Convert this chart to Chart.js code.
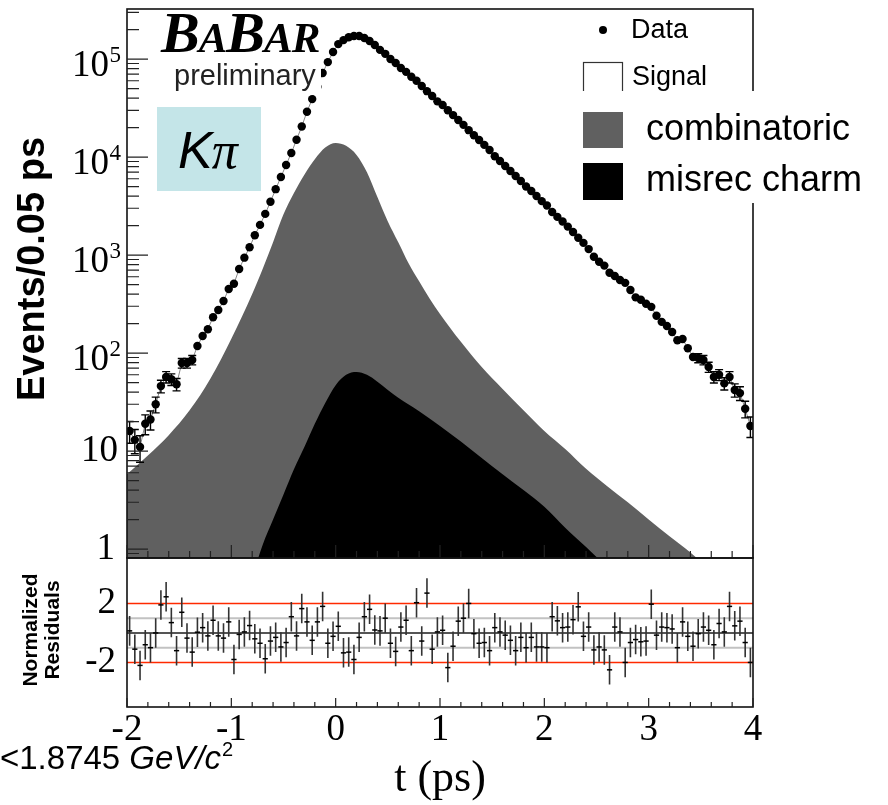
<!DOCTYPE html>
<html>
<head>
<meta charset="utf-8">
<script src="https://cdn.jsdelivr.net/npm/chart.js@4.4.0/dist/chart.umd.min.js"></script>
<style>
  html, body { margin: 0; padding: 0; background: #fff; }
  #wrap { position: relative; width: 888px; height: 805px; overflow: hidden; background: #fff; }
  canvas { position: absolute; left: 0; }
  #mainChart { top: 0; }
  #resChart { top: 552px; }
</style>
</head>
<body>
<div id="wrap">
  <canvas id="mainChart" width="888" height="565"></canvas>
  <canvas id="resChart" width="888" height="253"></canvas>
</div>
<script>
// binning: 120 bins of 0.05 ps from -2 to 4
const tStart = -2, binWidth = 0.05;

// events per bin
const counts = [
  16, 13, 11, 19, 21, 30, 46, 57, 54, 48, 79, 79, 85, 118, 149, 175, 232, 275, 340, 450, 510, 720, 940,
  1200, 1590, 2030, 2630, 3500, 4700, 6250, 8300, 11000, 15000, 20500, 29000, 39000, 52000, 72000, 93000, 118000, 142000, 156000,
  167000, 172000, 172000, 164000, 153000, 139000, 124000, 113000, 100000, 91000, 81000, 74000, 66000, 60000, 53000, 47000, 42000, 37000, 34000, 30000,
  26800, 23900, 21300, 18800, 16700, 14900, 13300, 11800, 10200, 9100, 8100, 7200, 6400, 5700, 5000, 4500, 4000, 3550, 3200, 2750, 2450, 2200, 1950, 1720, 1500, 1330, 1150, 960,
  855, 780, 660, 610, 556, 520, 440, 370, 350, 318, 296, 240, 208, 189, 164, 135, 139, 112, 91, 89, 85, 72, 57, 60, 49, 57, 42, 39, 27, 18
];

// normalized residuals per bin
const residuals = [
  0.14, -1.1, -2.2, -0.8, -1.0, 0.0, 1.9, 2.45, 0.7, -1.2,
  1.4, -0.35, -1.3, 0.05, 0.36, -0.2, 0.86, -0.2, -0.35, 0.75,
  -1.8, -0.1, 0.07, 0.5, -0.4, -0.7, -1.75, -0.55, -0.3, -0.95,
  -0.65, 1.1, -0.2, 1.65, 0.75, -0.5, 0.75, 1.8, -0.7, -0.23,
  0.45, -1.35, -1.3, -1.8, -0.3, 1.1, 1.6, 0.2, 0.14, 1.0,
  -0.7, -1.25, 0.4, 0.86, -1.2, 2.05, -0.55, 2.7, -1.1, 0.07,
  0.18, -2.35, -0.9, 0.8, 1.0, 2.0, -0.05, -0.7, -0.65, -1.2,
  0.36, 0.07, -0.15, -0.5, -1.2, -0.3, -1.0, -0.3, -0.95, -0.95,
  -1.0, 1.1, 0.82, 0.36, 0.4, 0.9, 1.77, -0.23, 0.4, -1.15,
  -0.95, -1.15, -2.5, 0.4, 0.07, -2.0, -0.65, -0.45, -0.6, -0.55,
  1.95, -0.15, 0.4, 0.36, 0.27, -1.0, 0.75, -0.23, -0.9, -0.05,
  0.4, 0.18, -0.8, 0.64, 0.07, 1.8, 0.48, 0.8, -0.65, -2.0
];

// combinatoric background shape
const combT = [-2.0, -1.8, -1.6, -1.4, -1.2, -1.0, -0.8, -0.7, -0.6, -0.5, -0.4, -0.3, -0.2, -0.1, 0.0, 0.1, 0.2, 0.3, 0.4, 0.5,
  0.6, 0.7, 0.8, 0.9, 1.0, 1.2, 1.4, 1.6, 1.8, 2.0, 2.2, 2.4, 2.6, 2.8, 3.0, 3.2, 3.4, 3.6, 3.8];
const combVals = [5.8, 9, 14.5, 26, 55, 140, 400, 720, 1350, 2600, 4300, 6600, 9500, 12500, 13900, 13000, 10500, 7000, 3900, 2200,
  1350, 820, 540, 360, 250, 130, 72, 43, 26, 16, 10.5, 6.6, 4.4, 3.0, 2.0, 1.35, 0.92, 0.6, 0.4];

// misreconstructed charm shape
const misT = [-0.85, -0.8, -0.7, -0.6, -0.5, -0.4, -0.3, -0.2, -0.1, 0.0, 0.1, 0.2, 0.3, 0.4, 0.5, 0.6, 0.8, 1.0, 1.2, 1.4,
  1.6, 1.8, 2.0, 2.2, 2.4, 2.6, 2.7];
const misVals = [0.3, 0.5, 1.1, 2.0, 3.6, 6.5, 11, 19, 31, 47, 60, 64, 60, 51, 42, 35, 25.5, 18, 12.5, 8.5,
  5.8, 4.0, 2.7, 1.65, 1.05, 0.65, 0.5];

const xTicks = [-2, -1, 0, 1, 2, 3, 4];
const yPowers = [0, 1, 2, 3, 4, 5];
const resTickLabels = [2, -2];
const yMin = 0.81, yMax = 3.24e5;

const binCenters = counts.map((_, i) => +(tStart + binWidth * (i + 0.5)).toFixed(3));

const serif = '"Liberation Serif", "Times New Roman", serif';
const sans = '"Liberation Sans", Arial, sans-serif';

function drawXTicks(ctx, x, a, major, minor) {
  ctx.beginPath();
  for (let k = 0; k <= 30; k++) {
    const v = -2 + k * 0.2;
    const px = x.getPixelForValue(v);
    const len = (k % 5 === 0) ? major : minor;
    ctx.moveTo(px, a.bottom);
    ctx.lineTo(px, a.bottom - len);
  }
  ctx.stroke();
}

const mainDecor = {
  id: 'mainDecor',
  afterDatasetsDraw(chart) {
    const { ctx, chartArea: a } = chart;
    const x = chart.scales.x, y = chart.scales.y;
    ctx.save();
    ctx.beginPath();
    ctx.rect(a.left, a.top, a.right - a.left, a.bottom - a.top);
    ctx.clip();
    ctx.strokeStyle = '#000';
    ctx.lineWidth = 1.4;
    counts.forEach((n, i) => {
      const e = Math.sqrt(n);
      const px = x.getPixelForValue(binCenters[i]);
      const yT = y.getPixelForValue(n + e);
      const yB = y.getPixelForValue(Math.max(n - e, 0.3));
      if (yB - yT < 9) return;
      ctx.beginPath();
      ctx.moveTo(px, yT); ctx.lineTo(px, yB);
      ctx.moveTo(px - 4, yT); ctx.lineTo(px + 4, yT);
      ctx.moveTo(px - 4, yB); ctx.lineTo(px + 4, yB);
      ctx.stroke();
    });
    ctx.restore();
  },
  afterDraw(chart) {
    const { ctx, chartArea: a } = chart;
    const x = chart.scales.x, y = chart.scales.y;
    ctx.save();

    // preliminary label sits on a white patch over the curve
    ctx.fillStyle = '#fff';
    ctx.fillRect(172, 61, 149, 34);

    // frame
    ctx.strokeStyle = '#111';
    ctx.lineWidth = 1.6;
    ctx.strokeRect(a.left, a.top, a.right - a.left, a.bottom - a.top);

    // y ticks (inside, left)
    ctx.lineWidth = 1.2;
    ctx.strokeStyle = '#222';
    ctx.beginPath();
    for (let d = -1; d <= 5; d++) {
      for (let m = 1; m <= 9; m++) {
        const v = m * Math.pow(10, d);
        if (v < yMin || v > yMax) continue;
        const py = y.getPixelForValue(v);
        ctx.moveTo(a.left, py);
        ctx.lineTo(a.left + (m === 1 ? 21 : 12), py);
      }
    }
    ctx.stroke();
    drawXTicks(ctx, x, a, 13, 7);

    // y tick labels
    ctx.fillStyle = '#000';
    ctx.textBaseline = 'middle';
    ctx.textAlign = 'right';
    yPowers.forEach(p => {
      const py = y.getPixelForValue(Math.pow(10, p));
      ctx.font = '37px ' + serif;
      if (p === 0) {
        ctx.fillText('1', 115, py);
      } else if (p === 1) {
        ctx.fillText('10', 118, py);
      } else {
        ctx.fillText('10', 109, py + 7);
        ctx.font = '23px ' + serif;
        ctx.fillText(String(p), 121, py - 3);
      }
    });

    // y title
    ctx.save();
    ctx.translate(34, 269);
    ctx.rotate(-Math.PI / 2);
    ctx.textAlign = 'center';
    ctx.font = 'bold 38px ' + sans;
    ctx.fillText('Events/0.05 ps', 0, 0);
    ctx.restore();

    // BaBar logo
    ctx.textAlign = 'left';
    ctx.textBaseline = 'alphabetic';
    let bx = 161;
    [['B', 58], ['A', 43], ['B', 58], ['A', 43], ['R', 43]].forEach(([c, s]) => {
      ctx.font = `italic bold ${s}px ${serif}`;
      ctx.fillText(c, bx, 52);
      bx += ctx.measureText(c).width - 1;
    });
    ctx.fillStyle = '#222';
    ctx.font = '29px ' + sans;
    ctx.fillText('preliminary', 174, 85);

    // K pi box
    ctx.fillStyle = '#c4e5e8';
    ctx.fillRect(157, 107, 104, 84);
    ctx.fillStyle = '#000';
    ctx.font = 'italic 52px ' + sans;
    ctx.fillText('K', 178, 168);
    const kw = ctx.measureText('K').width;
    ctx.font = 'italic 52px ' + serif;
    ctx.fillText('\u03c0', 178 + kw - 1, 168);

    // legend
    ctx.beginPath();
    ctx.arc(603, 30, 4, 0, Math.PI * 2);
    ctx.fill();
    ctx.font = '27px ' + sans;
    ctx.textBaseline = 'middle';
    ctx.fillText('Data', 631, 31);
    ctx.fillText('Signal', 632, 78);
    ctx.strokeStyle = '#333';
    ctx.lineWidth = 1.2;
    ctx.strokeRect(583.5, 62.5, 39, 35);

    ctx.fillStyle = '#fff';
    ctx.fillRect(576, 91, 312, 112);
    ctx.fillStyle = '#606060';
    ctx.fillRect(583, 112, 40, 36);
    ctx.fillStyle = '#000';
    ctx.fillRect(583, 163, 40, 37);
    ctx.font = '36px ' + sans;
    ctx.fillText('combinatoric', 646, 130);
    ctx.fillText('misrec charm', 646, 181);

    ctx.restore();
  }
};

const resDecor = {
  id: 'resDecor',
  beforeDatasetsDraw(chart) {
    const { ctx, chartArea: a } = chart;
    const x = chart.scales.x, y = chart.scales.y;
    ctx.save();
    const hline = (v, color, w) => {
      const py = y.getPixelForValue(v);
      ctx.strokeStyle = color;
      ctx.lineWidth = w;
      ctx.beginPath();
      ctx.moveTo(a.left, py);
      ctx.lineTo(a.right, py);
      ctx.stroke();
    };
    hline(1, '#c2c2c2', 2);
    hline(-1, '#c2c2c2', 2);
    hline(0, '#555', 2);
    hline(2, '#ff2a00', 1.5);
    hline(-2, '#ff2a00', 1.5);

    ctx.strokeStyle = '#333';
    ctx.lineWidth = 1.6;
    ctx.beginPath();
    residuals.forEach((r, i) => {
      const px = x.getPixelForValue(binCenters[i]);
      ctx.moveTo(px, y.getPixelForValue(r + 1));
      ctx.lineTo(px, y.getPixelForValue(r - 1));
    });
    ctx.stroke();
    ctx.restore();
  },
  afterDraw(chart) {
    const { ctx, chartArea: a } = chart;
    const x = chart.scales.x, y = chart.scales.y;
    ctx.save();
    ctx.strokeStyle = '#111';
    ctx.lineWidth = 1.6;
    ctx.strokeRect(a.left, a.top, a.right - a.left, a.bottom - a.top);
    ctx.lineWidth = 1.2;
    ctx.strokeStyle = '#222';
    drawXTicks(ctx, x, a, 9, 5);

    ctx.fillStyle = '#000';
    ctx.textBaseline = 'middle';
    ctx.textAlign = 'center';
    ctx.font = '37px ' + serif;
    xTicks.forEach(v => {
      ctx.fillText(String(v), x.getPixelForValue(v), 178);
    });

    ctx.textAlign = 'right';
    ctx.font = '37px ' + serif;
    resTickLabels.forEach(v => {
      ctx.fillText(String(v), 116, y.getPixelForValue(v));
    });

    // axis titles
    ctx.textAlign = 'center';
    ctx.font = '44px ' + serif;
    ctx.fillText('t (ps)', 440, 227);

    ctx.save();
    ctx.translate(31, 78);
    ctx.rotate(-Math.PI / 2);
    ctx.font = 'bold 21px ' + sans;
    ctx.fillText('Normalized', 0, 0);
    ctx.fillText('Residuals', 0, 22);
    ctx.restore();

    // mass cut note
    ctx.textAlign = 'left';
    ctx.textBaseline = 'alphabetic';
    ctx.font = '33px ' + sans;
    let tx = 0;
    ctx.fillText('<1.8745 ', tx, 217);
    tx += ctx.measureText('<1.8745 ').width;
    ctx.font = 'italic 33px ' + sans;
    ctx.fillText('GeV/c', tx, 217);
    tx += ctx.measureText('GeV/c').width + 1;
    ctx.font = '20px ' + sans;
    ctx.fillText('2', tx, 204);
    ctx.restore();
  }
};

new Chart(document.getElementById('mainChart'), {
  type: 'line',
  data: {
    datasets: [
      {
        label: 'Data',
        data: counts.map((n, i) => ({ x: binCenters[i], y: n })),
        showLine: true,
        borderColor: '#888',
        borderWidth: 1,
        pointRadius: 4.2,
        pointBackgroundColor: '#000',
        pointBorderWidth: 0,
        order: 0
      },
      {
        label: 'misrec charm',
        data: misT.map((t, i) => ({ x: t, y: misVals[i] })),
        borderWidth: 0,
        pointRadius: 0,
        backgroundColor: '#000',
        fill: { value: yMin },
        cubicInterpolationMode: 'monotone',
        order: 1
      },
      {
        label: 'combinatoric',
        data: combT.map((t, i) => ({ x: t, y: combVals[i] })),
        borderWidth: 0,
        pointRadius: 0,
        backgroundColor: '#606060',
        fill: { value: yMin },
        cubicInterpolationMode: 'monotone',
        order: 2
      }
    ]
  },
  options: {
    responsive: false,
    animation: false,
    layout: { padding: { left: 127, right: 135, top: 9, bottom: 7 } },
    plugins: { legend: { display: false }, tooltip: { enabled: false } },
    scales: {
      x: { type: 'linear', min: -2, max: 4, display: false },
      y: { type: 'logarithmic', min: yMin, max: yMax, display: false }
    }
  },
  plugins: [mainDecor]
});

new Chart(document.getElementById('resChart'), {
  type: 'line',
  data: {
    datasets: [{
      label: 'Residuals',
      data: residuals.map((r, i) => ({ x: binCenters[i], y: r })),
      showLine: false,
      pointStyle: 'line',
      pointRadius: 2.6,
      pointBorderColor: '#000',
      pointBorderWidth: 1.5
    }]
  },
  options: {
    responsive: false,
    animation: false,
    layout: { padding: { left: 127, right: 135, top: 6, bottom: 98 } },
    plugins: { legend: { display: false }, tooltip: { enabled: false } },
    scales: {
      x: { type: 'linear', min: -2, max: 4, display: false },
      y: { type: 'linear', min: -5.02, max: 5.08, display: false }
    }
  },
  plugins: [resDecor]
});
</script>
</body>
</html>
